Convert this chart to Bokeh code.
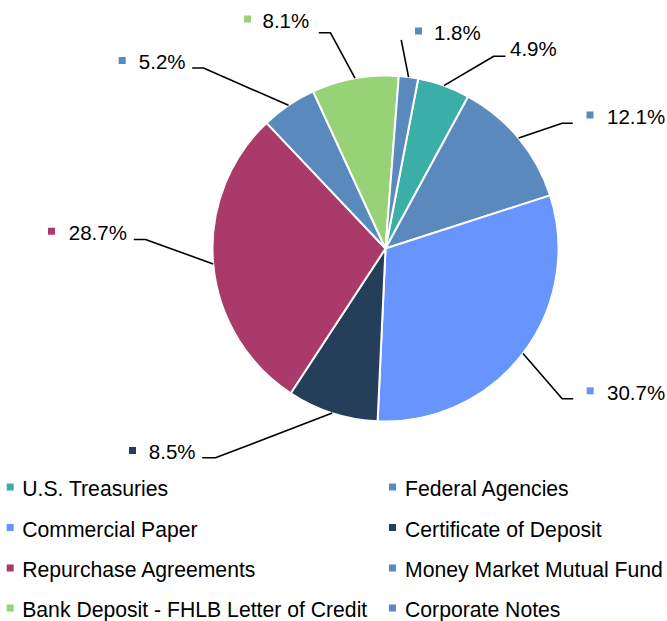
import math
from bokeh.plotting import figure
from bokeh.models import Range1d, ColumnDataSource
from bokeh.core.properties import value
from bokeh.embed import file_html
from bokeh.resources import INLINE

# ---------------- data ----------------
categories = [
    "U.S. Treasuries",
    "Federal Agencies",
    "Commercial Paper",
    "Certificate of Deposit",
    "Repurchase Agreements",
    "Money Market Mutual Fund",
    "Bank Deposit - FHLB Letter of Credit",
    "Corporate Notes",
]
percentages = [4.9, 12.1, 30.7, 8.5, 28.7, 5.2, 8.1, 1.8]
colors = ["#3BAEA8", "#5A89BD", "#6795FD", "#253F5A", "#AA3A69", "#5A89BD", "#98D277", "#5A89BD"]
show_label_marker = [False, True, True, True, True, True, True, True]

# ---------------- layout (pixels, origin top-left) ----------------
W, H = 667, 621
CX, CY, R = 385, 248, 173
FIRST_SLICE_ANGLE = 10.9  # degrees clockwise from 12 o'clock
FONT = "Liberation Sans"
LABEL_SIZE = "20.5px"
LEGEND_SIZE = "21.2px"

# per label: square centre, text left/middle, elbow point, end point
label_layout = [
    ((0, 0), (509.5, 48), (493.3, 55.7), (505.0, 55.7)),
    ((589.5, 114.5), (606.5, 116), (561.7, 122.7), (572.3, 122.7)),
    ((589.7, 390.3), (606.5, 391.5), (561.7, 398.3), (572.7, 398.3)),
    ((132.0, 450.0), (148.3, 451), (215.0, 457.3), (201.7, 457.3)),
    ((51.0, 230.7), (68.3, 232), (145.0, 239.0), (133.3, 239.0)),
    ((121.7, 60.0), (138.3, 61), (203.0, 67.5), (191.7, 67.5)),
    ((247.0, 18.5), (262.0, 19.5), (330.0, 32.3), (318.3, 32.3)),
    ((418.0, 30.5), (433.5, 32), (400.7, 39.3), (400.7, 39.3)),
]
legend_cols_x = [(9.7, 21.7), (392.0, 404.5)]
legend_rows_y = [488, 528.5, 569, 609]


def fy(y):
    return H - y


p = figure(
    width=W, height=H,
    x_range=Range1d(0, W), y_range=Range1d(0, H),
    x_axis_location=None, y_axis_location=None,
    min_border=0, toolbar_location=None, output_backend="svg",
)
p.grid.visible = False
p.outline_line_color = None
p.background_fill_color = "white"
p.border_fill_color = "white"

# ---------------- pie ----------------
total = sum(percentages)
starts, ends, mids = [], [], []
cum = FIRST_SLICE_ANGLE
for v in percentages:
    a1 = cum
    a2 = cum + v / total * 360.0
    # convert clockwise-from-top to bokeh (anticlockwise from +x)
    starts.append(math.radians(90 - a2))
    ends.append(math.radians(90 - a1))
    mids.append((a1 + a2) / 2)
    cum = a2

pie_src = ColumnDataSource(dict(start=starts, end=ends, color=colors, cat=categories))
p.wedge(x=CX, y=fy(CY), radius=R, start_angle="start", end_angle="end",
        direction="anticlock", fill_color="color", line_color="white",
        line_width=2, source=pie_src)

# ---------------- leader lines ----------------
xs, ys = [], []
for m, (_, _, elbow, end) in zip(mids, label_layout):
    sx = CX + R * math.sin(math.radians(m))
    sy = CY - R * math.cos(math.radians(m))
    xs.append([sx, elbow[0], end[0]])
    ys.append([fy(sy), fy(elbow[1]), fy(end[1])])
p.multi_line(xs=xs, ys=ys, line_color="black", line_width=1.6)

# ---------------- data labels ----------------
mk_x, mk_y, mk_c = [], [], []
tx, ty, tt = [], [], []
for v, c, show, (sq, tp, _, _) in zip(percentages, colors, show_label_marker, label_layout):
    if show:
        mk_x.append(sq[0]); mk_y.append(fy(sq[1])); mk_c.append(c)
    tx.append(tp[0]); ty.append(fy(tp[1])); tt.append(f"{v:.1f}%")
p.scatter(x=mk_x, y=mk_y, marker="square", size=7, fill_color=mk_c, line_color=None)
p.text(x=tx, y=ty, text=tt, text_font=value(FONT), text_font_size=LABEL_SIZE,
       text_align="left", text_baseline="middle", text_color="black")

# ---------------- legend ----------------
lx, ly, lc, ltx, lty = [], [], [], [], []
for i, (cat, c) in enumerate(zip(categories, colors)):
    col = i % 2
    row = i // 2
    lx.append(legend_cols_x[col][0]); ly.append(fy(legend_rows_y[row] - 1.5)); lc.append(c)
    ltx.append(legend_cols_x[col][1]); lty.append(fy(legend_rows_y[row]))
p.scatter(x=lx, y=ly, marker="square", size=7, fill_color=lc, line_color=None)
p.text(x=ltx, y=lty, text=categories, text_font=value(FONT), text_font_size=LEGEND_SIZE,
       text_align="left", text_baseline="middle", text_color="black")

open("out.html", "w").write(file_html(p, INLINE))
